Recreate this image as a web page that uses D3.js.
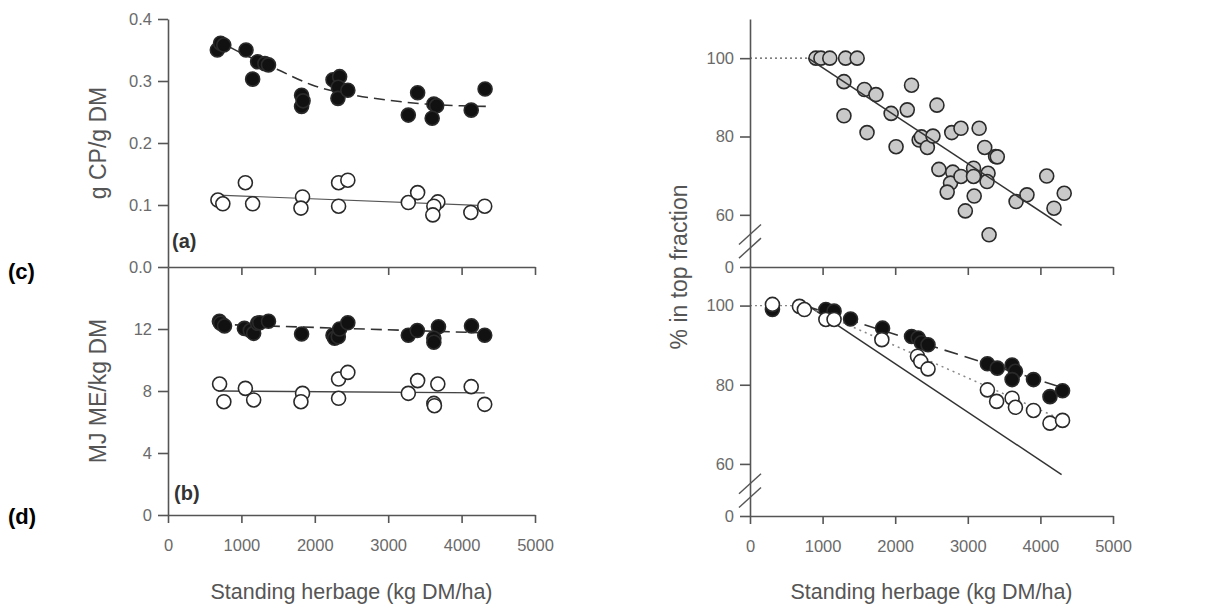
<!DOCTYPE html>
<html>
<head>
<meta charset="utf-8">
<script src="https://cdn.jsdelivr.net/npm/d3@7"></script>
<style>
  body { margin: 0; background: #fff; }
  svg { font-family: "Liberation Sans", Arial, sans-serif; }
</style>
</head>
<body>
<svg id="chart" width="1206" height="610"></svg>
<script>
// tick values
var xTicks = [0, 1000, 2000, 3000, 4000, 5000];
var cpTicks = [0, 0.1, 0.2, 0.3, 0.4];
var meTicks = [0, 4, 8, 12];
var pctTicks = [0, 60, 80, 100];

// (a) g CP / g DM  [standing herbage, value]
var cpFilled = [[672,0.350],[716,0.361],[760,0.358],[1063,0.350],[1153,0.303],[1221,0.331],[1320,0.328],[1369,0.326],
  [1820,0.277],[1820,0.259],[1840,0.268],[2248,0.302],[2338,0.307],[2320,0.290],[2315,0.272],[2450,0.285],
  [3274,0.245],[3401,0.281],[3622,0.263],[3660,0.260],[3599,0.240],[4131,0.253],[4320,0.287]];
var cpOpen = [[680,0.108],[747,0.102],[1054,0.136],[1153,0.102],[1833,0.113],[1811,0.095],[2324,0.136],[2450,0.140],
  [2324,0.098],[3274,0.104],[3401,0.120],[3676,0.105],[3622,0.098],[3608,0.084],[4126,0.088],[4315,0.098]];
var cpFilledFit = [[650,0.367],[1000,0.345],[1500,0.318],[2000,0.292],[2500,0.278],[3000,0.269],[3500,0.263],[4000,0.260],[4330,0.259]];
var cpOpenFit = [[680,0.116],[4315,0.099]];

// (b) MJ ME / kg DM
var meFilled = [[700,12.5],[716,12.37],[770,12.2],[1041,12.04],[1121,11.9],[1167,11.72],[1221,12.37],[1250,12.4],[1369,12.5],
  [1820,11.68],[2248,11.6],[2270,11.4],[2320,11.5],[2338,12.0],[2450,12.4],[3274,11.6],[3396,11.9],[3685,12.15],
  [3622,11.4],[3622,11.15],[4135,12.2],[4315,11.6]];
var meOpen = [[703,8.45],[761,7.31],[1054,8.17],[1167,7.42],[1833,7.85],[1811,7.31],[2324,8.77],[2450,9.2],[2324,7.53],
  [3274,7.85],[3401,8.67],[3676,8.45],[3622,7.2],[3630,7.05],[4131,8.28],[4315,7.14]];
var meFilledFit = [[680,12.3],[4315,11.75]];
var meOpenFit = [[680,8.0],[4315,7.88]];

// (c) % in top fraction, all samples
var topGray = [[908,100],[977,100],[1099,100],[1317,100],[1476,100],[1294,94],[1294,85.3],[1576,92],[1735,90.7],[1612,81],
  [1944,85.9],[2012,77.4],[2166,86.8],[2225,93.1],[2330,79.1],[2361,79.9],[2443,77.2],[2520,80.1],[2575,88],[2602,71.6],
  [2779,81],[2906,82.1],[2793,70.9],[2762,68.1],[2716,65.8],[2906,69.8],[2966,61],[3079,71.9],[3079,69.8],[3088,64.8],
  [3156,82.1],[3233,77.2],[3279,70.6],[3265,68.5],[3293,54.9],[3383,74.9],[3406,74.8],[3665,63.4],[3815,65.1],
  [4087,69.9],[4187,61.7],[4328,65.5]];
var grayPlateau = [[0,100],[800,100]];
var grayFit = [[800,100],[4292,57.3]];

// (d) % in top fraction, two groups
var topFilled = [[309,99],[1045,99],[1158,98.6],[1385,96.6],[1826,94.3],[2225,92.2],[2316,91.8],[2361,90.6],[2452,90.1],
  [3270,85.3],[3406,84.2],[3610,85],[3656,83.4],[3610,81.3],[3905,81.3],[4132,77],[4305,78.5]];
var topOpen = [[309,100.3],[681,99.8],[749,99],[1045,96.5],[1158,96.5],[1816,91.4],[2307,87.2],[2352,85.9],[2452,84],
  [3270,78.7],[3397,75.8],[3610,76.6],[3656,74.3],[3905,73.5],[4132,70.3],[4305,71]];
var bothPlateau = [[0,100],[750,100]];
var openFit = [[750,100],[4320,71]];
var filledFit = [[750,100],[4300,79.3]];

var svg = d3.select("#chart");
var axisColor = "#555";

var xL = d3.scaleLinear().domain([0, 5000]).range([168, 535]);
var xR = d3.scaleLinear().domain([0, 5000]).range([750, 1113]);
var yCP = d3.scaleLinear().domain([0, 0.4]).range([267, 19]);
var yME = d3.scaleLinear().domain([0, 16]).range([515, 267]);
// broken axes: 0 sits just under the break, 50..110 is the real range
var yRT = d3.scaleLinear().domain([0, 50, 110]).range([267, 254, 19]);
var yRB = d3.scaleLinear().domain([0, 50, 110]).range([516, 503.5, 266]);

function styleAxis(g) {
    g.attr("font-family", null).attr("font-size", null);
    g.select(".domain").attr("stroke", axisColor).attr("stroke-width", 1.6);
    g.selectAll(".tick line").attr("stroke", axisColor).attr("stroke-width", 1.6);
    g.selectAll(".tick text").attr("fill", "#6a6a6a").style("font-size", "16.5px");
}

function yAxis(scale, ticks, fmt, x) {
    svg.append("g")
        .attr("transform", "translate(" + x + ",0)")
        .call(d3.axisLeft(scale).tickValues(ticks).tickFormat(fmt).tickSize(10).tickSizeOuter(0).tickPadding(6))
        .call(styleAxis);
}

function xAxis(scale, ticks, y, labels) {
    var ax = d3.axisBottom(scale).tickValues(ticks).tickSize(8).tickSizeOuter(0).tickPadding(16)
        .tickFormat(labels ? d3.format("d") : "");
    svg.append("g")
        .attr("transform", "translate(0," + y + ")")
        .call(ax)
        .call(styleAxis);
}

function drawLine(data, xs, ys, dash, color, width, curved) {
    var line = d3.line().x(d => xs(d[0])).y(d => ys(d[1]));
    if (curved) line.curve(d3.curveMonotoneX);
    svg.append("path")
        .datum(data)
        .attr("d", line)
        .attr("fill", "none")
        .attr("stroke", color)
        .attr("stroke-width", width)
        .attr("stroke-dasharray", dash);
}

function drawPoints(data, xs, ys, fill) {
    svg.append("g").selectAll("circle")
        .data(data)
        .join("circle")
        .attr("cx", d => xs(d[0]))
        .attr("cy", d => ys(d[1]))
        .attr("r", 7)
        .attr("fill", fill)
        .attr("stroke", "#2a2a2a")
        .attr("stroke-width", 1.6);
}

function breakMarks(scale, x) {
    [55, 51.5].forEach(function(v) {
        svg.append("line")
            .attr("x1", x - 11).attr("y1", scale(v) + 10)
            .attr("x2", x + 11).attr("y2", scale(v) - 10)
            .attr("stroke", axisColor)
            .attr("stroke-width", 1.4);
    });
}

// left panels
drawLine(cpFilledFit, xL, yCP, "11,6", "#333", 1.6, true);
drawLine(cpOpenFit, xL, yCP, null, "#555", 1.1, false);
drawPoints(cpFilled, xL, yCP, "#111");
drawPoints(cpOpen, xL, yCP, "#fff");

drawLine(meFilledFit, xL, yME, "11,6", "#333", 1.6, false);
drawLine(meOpenFit, xL, yME, null, "#444", 1.3, false);
drawPoints(meFilled, xL, yME, "#111");
drawPoints(meOpen, xL, yME, "#fff");

yAxis(yCP, cpTicks, d3.format(".1f"), xL(0));
yAxis(yME, meTicks, d3.format("d"), xL(0));
xAxis(xL, xTicks.slice(1), yCP(0), false);
xAxis(xL, xTicks, yME(0), true);

// right panels
drawPoints(topGray, xR, yRT, "#c9c9c9");
drawLine(grayPlateau, xR, yRT, "2,3", "#555", 1.3, false);
drawLine(grayFit, xR, yRT, null, "#333", 1.6, false);

drawLine(bothPlateau, xR, yRB, "2,3", "#888", 1.4, false);
drawLine(grayFit, xR, yRB, null, "#333", 1.5, false);
drawLine(openFit, xR, yRB, "2,4", "#888", 1.5, false);
drawLine(filledFit, xR, yRB, "14,7", "#333", 1.6, false);
drawPoints(topFilled, xR, yRB, "#111");
drawPoints(topOpen, xR, yRB, "#fff");

yAxis(yRT, pctTicks, d3.format("d"), xR(0));
yAxis(yRB, pctTicks, d3.format("d"), xR(0));
xAxis(xR, xTicks.slice(1), yRT(0), false);
xAxis(xR, xTicks, yRB(0), true);
breakMarks(yRT, xR(0));
breakMarks(yRB, xR(0));

// titles
function yTitle(text, x, y) {
    svg.append("text")
        .attr("transform", "translate(" + x + "," + y + ") rotate(-90)")
        .attr("text-anchor", "middle")
        .attr("dy", "0.35em")
        .attr("fill", "#555")
        .style("font-size", "23px")
        .text(text);
}
yTitle("g CP/g DM", 98, yCP(0.2));
yTitle("MJ ME/kg DM", 98, yME(8));
yTitle("% in top fraction", 679, 267);

[xL, xR].forEach(function(s) {
    svg.append("text")
        .attr("x", (s.range()[0] + s.range()[1]) / 2)
        .attr("y", 599)
        .attr("text-anchor", "middle")
        .attr("fill", "#555")
        .style("font-size", "21.5px")
        .text("Standing herbage (kg DM/ha)");
});

function panelLabel(text, x, y, size, color) {
    svg.append("text")
        .attr("x", x).attr("y", y)
        .attr("fill", color)
        .style("font-size", size)
        .style("font-weight", "bold")
        .text(text);
}
panelLabel("(a)", 172, 248, "20px", "#333");
panelLabel("(b)", 174, 500, "20px", "#333");
panelLabel("(c)", 8, 279, "22px", "#000");
panelLabel("(d)", 8, 524, "22px", "#000");
</script>
</body>
</html>
